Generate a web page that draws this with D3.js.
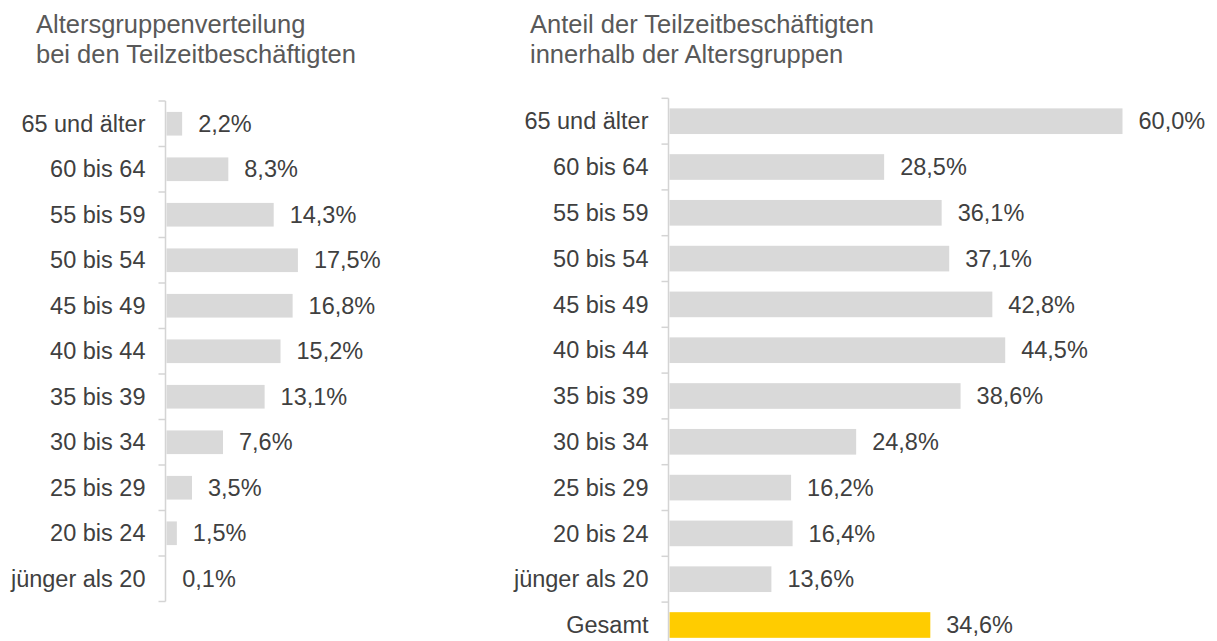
<!DOCTYPE html>
<html lang="de">
<head>
    <meta charset="UTF-8">
    <title>Teilzeitbeschäftigte nach Altersgruppen</title>
    <style>
        body {
            margin: 0;
            background: #fff;
            font-family: "Liberation Sans", Arial, sans-serif;
        }
        .title {
            fill: #595959;
            font-size: 25.5px;
        }
        .cat {
            fill: #404040;
            font-size: 23.5px;
        }
        .val {
            fill: #404040;
            font-size: 23.5px;
        }
        .axis {
            stroke: #d4d4d4;
            stroke-width: 1.5px;
            fill: none;
        }
    </style>
</head>
<body>

<div id="chart"></div>

<script src="https://d3js.org/d3.v7.min.js"></script>
<script>
    // Linkes Diagramm: Altersgruppenverteilung bei den Teilzeitbeschäftigten
    const leftTitle = ["Altersgruppenverteilung", "bei den Teilzeitbeschäftigten"];
    const leftCategories = ["65 und älter", "60 bis 64", "55 bis 59", "50 bis 54", "45 bis 49",
        "40 bis 44", "35 bis 39", "30 bis 34", "25 bis 29", "20 bis 24", "jünger als 20"];
    const leftValues = [2.2, 8.3, 14.3, 17.5, 16.8, 15.2, 13.1, 7.6, 3.5, 1.5, 0.1];

    // Rechtes Diagramm: Anteil der Teilzeitbeschäftigten innerhalb der Altersgruppen
    const rightTitle = ["Anteil der Teilzeitbeschäftigten", "innerhalb der Altersgruppen"];
    const rightCategories = ["65 und älter", "60 bis 64", "55 bis 59", "50 bis 54", "45 bis 49",
        "40 bis 44", "35 bis 39", "30 bis 34", "25 bis 29", "20 bis 24", "jünger als 20", "Gesamt"];
    const rightValues = [60.0, 28.5, 36.1, 37.1, 42.8, 44.5, 38.6, 24.8, 16.2, 16.4, 13.6, 34.6];

    const width = 1217, height = 641;

    const de = d3.formatLocale({ decimal: ",", thousands: ".", grouping: [3], currency: ["", " €"] });
    const fmt = v => de.format(".1f")(v) + "%";

    const svg = d3.select("#chart").append("svg")
        .attr("width", width)
        .attr("height", height);

    function drawPanel(opts) {
        const g = svg.append("g");
        const n = opts.cats.length;

        // Titel
        g.append("text")
            .attr("class", "title")
            .attr("x", opts.titleX)
            .selectAll("tspan")
            .data(opts.title)
          .enter().append("tspan")
            .attr("x", opts.titleX)
            .attr("y", (d, i) => 33 + i * 30)
            .text(d => d);

        const y = d3.scaleBand()
            .domain(opts.cats)
            .range([opts.top, opts.top + opts.step * n])
            .paddingInner(opts.pad)
            .paddingOuter(opts.pad / 2);

        const x = d3.scaleLinear()
            .domain([0, 60])
            .range([opts.axisX, opts.axisX + 454]);

        // Balken
        g.selectAll(".bar")
            .data(opts.cats)
          .enter().append("rect")
            .attr("class", "bar")
            .attr("x", x(0) + 1)
            .attr("y", d => y(d))
            .attr("height", y.bandwidth())
            .attr("width", (d, i) => x(opts.vals[i]) - x(0) - 1)
            .attr("fill", d => d === "Gesamt" ? "#ffcc00" : "#d9d9d9");

        // Achse mit Strichen an den Kategoriegrenzen
        const edges = d3.range(n + 1).map(i => opts.top + i * y.step());
        g.append("line")
            .attr("class", "axis")
            .attr("x1", opts.axisX).attr("x2", opts.axisX)
            .attr("y1", edges[0]).attr("y2", edges[n]);
        g.selectAll(".tick")
            .data(edges)
          .enter().append("line")
            .attr("class", "axis")
            .attr("x1", opts.axisX - 7).attr("x2", opts.axisX)
            .attr("y1", d => d).attr("y2", d => d);

        // Kategorien
        g.selectAll(".cat")
            .data(opts.cats)
          .enter().append("text")
            .attr("class", "cat")
            .attr("x", opts.axisX - 20)
            .attr("y", d => y(d) + y.bandwidth() / 2)
            .attr("dy", "0.35em")
            .style("text-anchor", "end")
            .text(d => d);

        // Werte
        g.selectAll(".val")
            .data(opts.cats)
          .enter().append("text")
            .attr("class", "val")
            .attr("x", (d, i) => x(opts.vals[i]) + 16)
            .attr("y", d => y(d) + y.bandwidth() / 2)
            .attr("dy", "0.35em")
            .text((d, i) => fmt(opts.vals[i]));
    }

    drawPanel({
        title: leftTitle, titleX: 36,
        cats: leftCategories, vals: leftValues,
        axisX: 165.5, top: 101, step: 45.5, pad: 0.48
    });

    drawPanel({
        title: rightTitle, titleX: 530,
        cats: rightCategories, vals: rightValues,
        axisX: 668.5, top: 98.3, step: 45.8, pad: 0.44
    });
</script>

</body>
</html>
